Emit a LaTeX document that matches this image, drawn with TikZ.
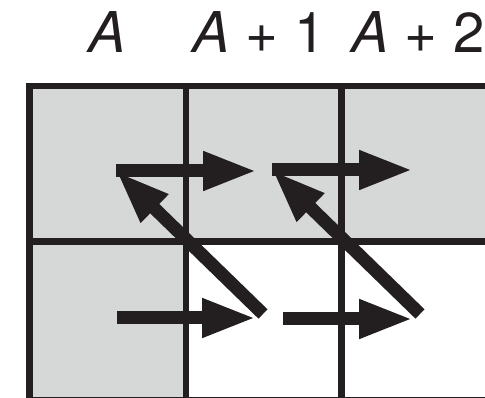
\documentclass[tikz,border=0pt]{standalone}
\usepackage{fontspec}
\setsansfont{TeX Gyre Heros}
\usetikzlibrary{arrows.meta}
\definecolor{cellgray}{RGB}{214,216,216}
\definecolor{inkblack}{RGB}{35,31,32}
\tikzset{
  gridline/.style={draw=inkblack, line width=3.7pt},
  scanarrow/.style={draw=inkblack, line width=7.4pt, -{Triangle[length=1.08cm,width=0.72cm]}},
  colhead/.style={anchor=base, font=\sffamily\fontsize{32}{36}\selectfont, text=inkblack, inner sep=0pt}
}

\begin{document}
\begin{tikzpicture}[x=0.02cm, y=-0.02cm]
\useasboundingbox (0,0) rectangle (485,398);
\clip (0,0) rectangle (485,398);
% Cells
\fill[cellgray] (29.5,86) rectangle (497,241.5);
\fill[cellgray] (29.5,241.5) rectangle (186,400);
\draw[gridline] (29.5,86) rectangle (497,400);
\draw[gridline] (186,86) -- (186,400);
\draw[gridline] (341.5,86) -- (341.5,400);
\draw[gridline] (29.5,241.5) -- (497,241.5);
% Column labels
\node[colhead] (colA) at (107,53) {\textit{A}};
\node[colhead] (colB) at (259,53) {\textit{A} + 1};
\node[colhead] (colC) at (418,53) {\textit{A} + 2};
% Arrow points
\coordinate (ts1) at (116,171);
\coordinate (te1) at (257,171);
\coordinate (bs1) at (117,318);
\coordinate (be1) at (256,318);
\coordinate (dj1) at (263,314);
\coordinate (ts2) at (272,170);
\coordinate (te2) at (413,170);
\coordinate (bs2) at (283,319);
\coordinate (be2) at (413,319);
\coordinate (dj2) at (420,314);
% Scan arrows
\draw[scanarrow] (ts1) -- (te1);
\draw[scanarrow] (bs1) -- (be1);
\draw[scanarrow] (dj1) -- (ts1);
\draw[scanarrow] (ts2) -- (te2);
\draw[scanarrow] (bs2) -- (be2);
\draw[scanarrow] (dj2) -- (ts2);
\end{tikzpicture}
\end{document}
